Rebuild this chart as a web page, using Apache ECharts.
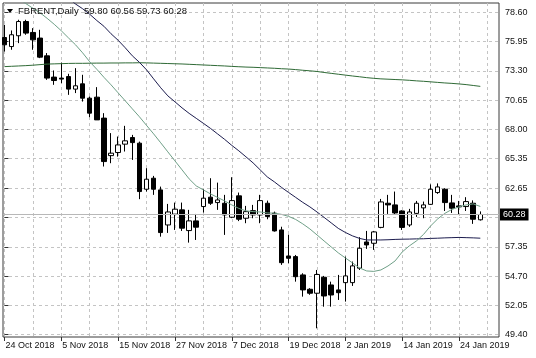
<!DOCTYPE html>
<html><head><meta charset="utf-8">
<script src="https://cdn.jsdelivr.net/npm/echarts@6/dist/echarts.min.js"></script>
<style>html,body{margin:0;padding:0;background:#fff}#c{width:536px;height:358px}</style>
</head><body><div id="c"></div>
<script>
const dates = ['24 Oct 2018','25 Oct 2018','26 Oct 2018','29 Oct 2018','30 Oct 2018','31 Oct 2018','1 Nov 2018','2 Nov 2018',
'5 Nov 2018','6 Nov 2018','7 Nov 2018','8 Nov 2018','9 Nov 2018','12 Nov 2018','13 Nov 2018','14 Nov 2018',
'15 Nov 2018','16 Nov 2018','19 Nov 2018','20 Nov 2018','21 Nov 2018','22 Nov 2018','23 Nov 2018','26 Nov 2018',
'27 Nov 2018','28 Nov 2018','29 Nov 2018','30 Nov 2018','3 Dec 2018','4 Dec 2018','5 Dec 2018','6 Dec 2018',
'7 Dec 2018','10 Dec 2018','11 Dec 2018','12 Dec 2018','13 Dec 2018','14 Dec 2018','17 Dec 2018','18 Dec 2018',
'19 Dec 2018','20 Dec 2018','21 Dec 2018','24 Dec 2018','26 Dec 2018','27 Dec 2018','28 Dec 2018','31 Dec 2018',
'2 Jan 2019','3 Jan 2019','4 Jan 2019','7 Jan 2019','8 Jan 2019','9 Jan 2019','10 Jan 2019','11 Jan 2019',
'14 Jan 2019','15 Jan 2019','16 Jan 2019','17 Jan 2019','18 Jan 2019','21 Jan 2019','22 Jan 2019','23 Jan 2019',
'24 Jan 2019','25 Jan 2019','28 Jan 2019','29 Jan 2019'];

const openVals = [76.33,75.51,76.49,77.78,76.79,76.28,74.67,72.74,72.65,72.79,71.65,72.13,70.83,70.92,69.02,65.62,
65.90,66.66,67.26,66.75,62.57,63.57,62.51,59.33,60.31,60.70,58.82,59.70,61.00,61.85,61.36,61.30,
60.03,61.97,59.94,60.63,60.24,61.30,60.40,58.88,56.52,56.46,54.80,53.50,53.14,54.59,53.89,53.44,
54.10,54.10,55.41,57.79,57.67,59.11,61.30,61.15,60.60,59.33,60.38,60.88,61.20,62.27,62.57,61.33,
61.06,61.00,61.30,59.80];
const highVals = [77.48,76.97,77.94,77.94,77.18,77.03,74.92,73.34,74.06,73.04,73.55,72.95,70.98,71.83,69.47,67.66,
67.35,68.32,67.50,66.89,64.48,63.78,62.81,61.24,61.36,61.36,60.70,60.33,62.57,63.57,63.17,62.06,
63.66,62.27,61.06,61.15,62.06,61.54,60.54,59.17,58.45,56.61,54.95,53.60,55.25,54.71,54.19,54.80,
56.46,56.01,58.22,58.79,58.79,61.69,62.06,62.36,60.66,60.79,61.51,61.45,63.01,63.10,62.66,62.06,
61.51,61.85,61.56,60.56];
const lowVals = [75.06,75.22,75.82,76.58,75.22,74.46,72.49,72.04,72.19,71.13,71.29,70.52,69.11,68.86,64.63,64.93,
65.53,65.99,65.23,61.67,62.36,62.06,58.27,58.61,58.88,58.79,57.73,57.97,60.45,61.15,60.70,58.43,
59.95,59.68,59.49,59.94,59.49,59.85,58.73,55.71,55.86,54.19,52.83,53.00,49.96,51.92,51.92,52.53,
52.38,53.80,55.25,57.16,57.07,59.03,60.33,60.24,58.88,59.16,60.06,59.94,61.15,62.15,60.60,60.42,
60.29,60.60,59.43,59.73];
const closeVals = [75.67,76.58,77.78,76.73,76.12,74.55,72.65,72.43,72.56,71.65,71.95,70.83,69.47,68.86,65.08,65.84,
66.59,66.96,66.80,62.36,63.48,62.57,58.64,60.51,60.76,59.04,59.70,59.13,61.76,61.30,61.60,60.24,
61.54,59.85,60.54,60.24,61.54,60.09,58.79,55.91,56.31,54.64,53.44,53.14,54.84,52.89,52.98,53.19,
54.71,55.62,57.22,57.52,58.70,61.42,61.15,60.42,59.11,60.51,61.30,61.15,62.57,62.78,61.36,60.85,
60.97,61.45,59.85,60.28];

const maFast = [null,null,79.84,79.41,78.98,78.57,78.07,77.53,76.94,76.30,75.67,74.94,74.13,73.45,72.72,72.04,
71.31,70.59,69.86,69.14,68.36,67.59,66.78,65.96,65.14,64.33,63.51,62.87,62.51,62.15,61.83,61.51,
61.15,60.83,60.61,60.54,60.51,60.42,60.40,60.29,60.11,59.83,59.43,58.97,58.43,57.88,57.34,56.80,
56.34,55.89,55.43,55.16,55.12,55.25,55.61,56.07,56.88,57.43,57.88,58.47,59.24,59.88,60.38,60.74,
60.97,61.15,61.24,61.01];
const maMid = [null,null,null,null,null,null,null,null,null,79.89,79.37,78.94,78.44,77.87,77.35,76.67,
76.08,75.40,74.67,74.08,73.40,72.58,71.77,71.04,70.50,69.95,69.45,69.00,68.55,68.09,67.59,67.09,
66.55,66.05,65.51,64.96,64.33,63.69,63.24,62.74,62.28,61.83,61.38,60.97,60.51,60.02,59.52,59.02,
58.65,58.34,58.11,57.97,57.97,57.97,57.99,58.02,58.04,58.05,58.07,58.08,58.11,58.13,58.16,58.18,
58.20,58.18,58.16,58.13];
const maSlow = [73.69,73.72,73.75,73.78,73.82,73.87,73.92,73.94,73.96,73.98,73.99,73.99,74.00,74.01,74.01,74.02,
74.02,74.03,74.03,74.04,74.03,74.01,73.99,73.97,73.95,73.93,73.90,73.87,73.84,73.81,73.78,73.75,
73.71,73.68,73.65,73.63,73.60,73.57,73.54,73.50,73.47,73.42,73.36,73.31,73.25,73.16,73.08,73.00,
72.92,72.84,72.77,72.69,72.63,72.58,72.55,72.52,72.49,72.45,72.40,72.36,72.31,72.26,72.21,72.17,
72.12,72.06,71.98,71.90];

const yTicks = [49.40,52.05,54.70,57.35,60.00,62.65,65.35,68.00,70.65,73.30,75.95,78.60];
const yLabelTicks = [49.40,52.05,54.70,57.35,62.65,65.35,68.00,70.65,73.30,75.95,78.60];
const xLabelIdx = [0,8,16,24,32,40,48,56,64];
const xGridIdx = [0,4,8,12,16,20,24,28,32,36,40,44,48,52,56,60,64,68];
const symbolName = 'FBRENT,Daily';

const FONT = "'Liberation Sans',Arial,sans-serif";
const FS = 9;
const n = dates.length;
const last = n - 1;
const lastClose = closeVals[last];
const candleData = dates.map((d, i) => [i, openVals[i], closeVals[i], lowVals[i], highVals[i]]);
const toLine = arr => arr.map((v, i) => [i, v]);
const headerText = symbolName + '  ' + [openVals[last], highVals[last], lowVals[last], closeVals[last]].map(v => v.toFixed(2)).join(' ');

const X_MIN = -0.211, X_MAX = 69.63, Y_MIN = 49.17, Y_MAX = 79.46;
const gridLine = { show: true, lineStyle: { color: '#c4c4c4', type: [3, 3], width: 1 } };

const chart = echarts.init(document.getElementById('c'), null, { renderer: 'canvas' });
chart.setOption({
  animation: false,
  backgroundColor: '#ffffff',
  grid: { left: 3, right: 37, top: 3, bottom: 21, show: true, borderColor: '#3a3a3a', borderWidth: 1, backgroundColor: 'transparent' },
  xAxis: [
    { type: 'value', min: X_MIN, max: X_MAX, position: 'bottom',
      axisLine: { show: false }, axisTick: { show: false, customValues: xGridIdx },
      axisLabel: { show: false }, splitLine: gridLine },
    { type: 'value', min: X_MIN, max: X_MAX, position: 'bottom',
      axisLine: { show: false },
      axisTick: { show: true, customValues: xLabelIdx, length: 4, lineStyle: { color: '#333' } },
      axisLabel: { show: true, customValues: xLabelIdx, formatter: v => dates[Math.round(v)] || '',
        align: 'left', margin: 4, padding: [0, 0, 0, 1], fontFamily: FONT, fontSize: FS, color: '#111' },
      splitLine: { show: false } }
  ],
  yAxis: [{
    type: 'value', min: Y_MIN, max: Y_MAX, position: 'right', scale: true,
    axisLine: { show: false },
    axisTick: { show: true, customValues: yTicks, length: 4, lineStyle: { color: '#333' } },
    axisLabel: { show: true, customValues: yLabelTicks, formatter: v => v.toFixed(2), margin: 6,
      fontFamily: FONT, fontSize: FS, color: '#111' },
    splitLine: gridLine
  }],
  graphic: [
    { type: 'polygon', shape: { points: [[7, 9], [13, 9], [10, 13]] }, style: { fill: '#000' }, z: 100 },
    { type: 'text', x: 18, y: 11, z: 100, style: { text: headerText, fontFamily: FONT, fontSize: FS + 0.5, fill: '#111', verticalAlign: 'middle', align: 'left' } }
  ],
  series: [
    { type: 'line', xAxisIndex: 0, yAxisIndex: 0, data: [], z: 1, silent: true,
      markLine: { silent: true, symbol: ['none', 'none'], animation: false,
        data: [{ yAxis: lastClose }],
        lineStyle: { color: '#b8b8b8', type: 'solid', width: 1 },
        label: { show: true, position: 'end', distance: 1, formatter: lastClose.toFixed(2),
          backgroundColor: '#000', color: '#fff', padding: [2, 3, 1, 3], fontFamily: FONT, fontSize: FS } } },
    { type: 'candlestick', xAxisIndex: 0, yAxisIndex: 0, data: candleData, encode: { x: 0, y: [1, 2, 3, 4] },
      barWidth: 5, z: 2,
      itemStyle: { color: '#ffffff', color0: '#000000', borderColor: '#000000', borderColor0: '#000000', borderWidth: 1 } },
    { type: 'line', xAxisIndex: 0, yAxisIndex: 0, data: toLine(maSlow), symbol: 'none', z: 3,
      lineStyle: { color: '#2f6a36', width: 1 } },
    { type: 'line', xAxisIndex: 0, yAxisIndex: 0, data: toLine(maMid), symbol: 'none', z: 3,
      lineStyle: { color: '#1c1c4e', width: 1 } },
    { type: 'line', xAxisIndex: 0, yAxisIndex: 0, data: toLine(maFast), symbol: 'none', z: 3,
      lineStyle: { color: '#6f9f87', width: 1 } }
  ]
});
</script></body></html>
